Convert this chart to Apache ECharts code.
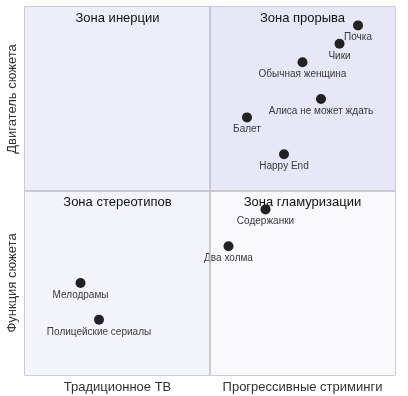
<!DOCTYPE html>
<html>
<head>
<meta charset="utf-8">
<script src="https://cdn.jsdelivr.net/npm/echarts@6/dist/echarts.min.js"></script>
<style>
  html, body { margin: 0; padding: 0; background: #fff; }
  #main { width: 408px; height: 396px; }
</style>
</head>
<body>
<div id="main"></div>
<script>
// сериалы и их позиции (0..10 по обеим осям)
var names = ['Почка', 'Чики', 'Обычная женщина', 'Алиса не может ждать', 'Балет', 'Happy End',
  'Содержанки', 'Два холма', 'Мелодрамы', 'Полицейские сериалы']
var xVals = [9, 8.5, 7.5, 8, 6, 7, 6.5, 5.5, 1.5, 2]
var yVals = [9.5, 9, 8.5, 7.5, 7, 6, 4.5, 3.5, 2.5, 1.5]

var zones = ['Зона инерции', 'Зона прорыва', 'Зона стереотипов', 'Зона гламуризации']
var xLabels = ['Традиционное ТВ', 'Прогрессивные стриминги']
var yLabels = ['Функция сюжета', 'Двигатель сюжета']

var font = 'Liberation Sans, Arial, sans-serif'
var chart = echarts.init(document.getElementById('main'))

var points = names.map(function (n, i) {
  return { name: n, value: [xVals[i], yVals[i]] }
})

function zone(title, x0, x1, y0, y1, color) {
  return [{
    name: title, xAxis: x0, yAxis: y1,
    itemStyle: { color: color },
    label: { show: true, position: 'insideTop', distance: 5, fontSize: 13, color: '#111', fontFamily: font }
  }, { xAxis: x1, yAxis: y0 }]
}

var option = {
  animation: false,
  grid: {
    left: 25, right: 13, top: 7, bottom: 21,
    show: true, borderColor: '#bdbdc2', borderWidth: 1.5
  },
  xAxis: {
    type: 'value', min: 0, max: 10,
    splitLine: { show: false }, axisLine: { show: false }, axisTick: { show: false },
    axisLabel: {
      customValues: [2.5, 7.5], margin: 6,
      fontSize: 13, color: '#333', fontFamily: font,
      formatter: function (v) { return v < 5 ? xLabels[0] : xLabels[1] }
    }
  },
  yAxis: {
    type: 'value', min: 0, max: 10,
    splitLine: { show: false }, axisLine: { show: false }, axisTick: { show: false },
    axisLabel: {
      customValues: [2.5, 7.5], rotate: 90, margin: 6,
      fontSize: 13, color: '#333', fontFamily: font,
      formatter: function (v) { return v < 5 ? yLabels[0] : yLabels[1] }
    }
  },
  series: [{
    type: 'scatter',
    data: points,
    symbolSize: 10,
    itemStyle: { color: '#222', opacity: 1 },
    label: {
      show: true, position: 'bottom', distance: 2,
      formatter: '{b}', fontSize: 10, color: '#3a3a3a', fontFamily: font
    },
    markArea: {
      silent: true,
      data: [
        zone(zones[0], 0, 5, 5, 10, '#eeeefb'),
        zone(zones[1], 5, 10, 5, 10, '#e7e7f7'),
        zone(zones[2], 0, 5, 0, 5, '#f4f4fc'),
        zone(zones[3], 5, 10, 0, 5, '#f8f8fd')
      ]
    },
    markLine: {
      silent: true, symbol: 'none',
      lineStyle: { color: '#bdbdc2', width: 1.5, type: 'solid' },
      label: { show: false },
      data: [{ xAxis: 5 }, { yAxis: 5 }]
    }
  }]
}
chart.setOption(option)
</script>
</body>
</html>
